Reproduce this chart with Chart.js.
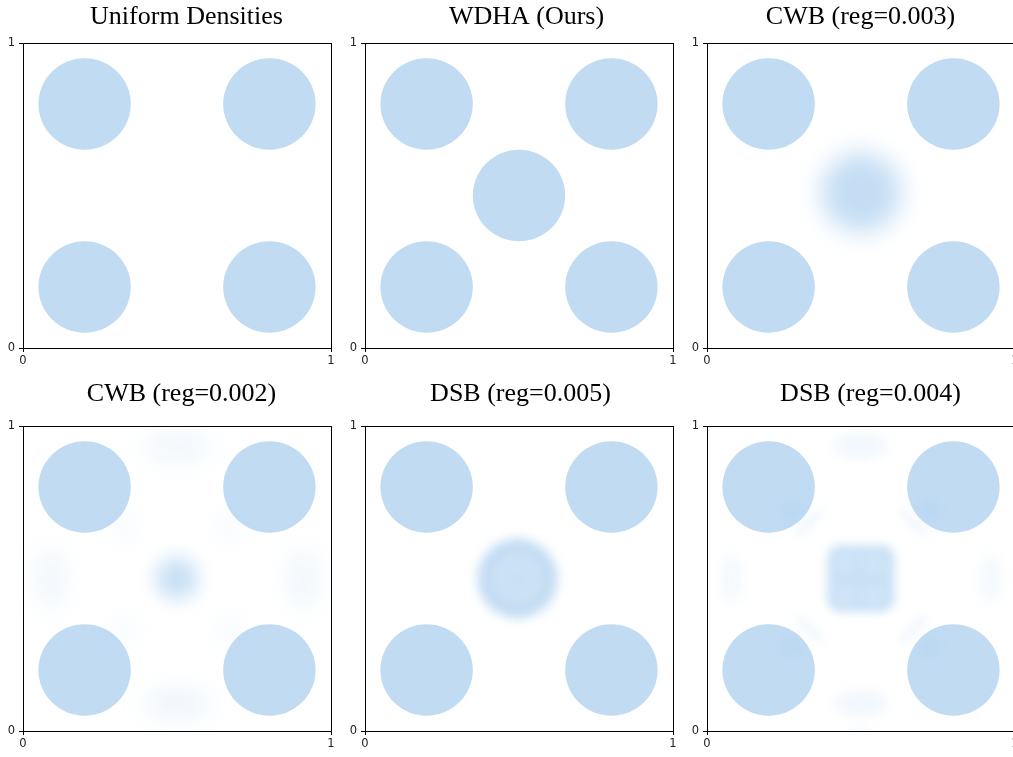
<!DOCTYPE html>
<html lang="en">
<head>
<meta charset="UTF-8">
<title>Barycenter densities</title>
<script src="https://cdn.jsdelivr.net/npm/chart.js"></script>
<style>
  body { margin: 0; width: 1013px; height: 757px; overflow: hidden; background: #fff; position: relative; }
  canvas { position: absolute; }
</style>
</head>
<body>
<canvas id="c0"></canvas>
<canvas id="c1"></canvas>
<canvas id="c2"></canvas>
<canvas id="c3"></canvas>
<canvas id="c4"></canvas>
<canvas id="c5"></canvas>
<script>
// panel titles and axis ticks
const panelTitles = ['Uniform Densities', 'WDHA (Ours)', 'CWB (reg=0.003)', 'CWB (reg=0.002)', 'DSB (reg=0.005)', 'DSB (reg=0.004)'];
const axisTicks = [0, 1];

// mass blobs, in axis units: centre x/y, half sizes rx/ry, relative density d
const inputCircles = [
  { x: 0.2, y: 0.8, rx: 0.15, ry: 0.15, d: 1 },
  { x: 0.8, y: 0.8, rx: 0.15, ry: 0.15, d: 1 },
  { x: 0.2, y: 0.2, rx: 0.15, ry: 0.15, d: 1 },
  { x: 0.8, y: 0.2, rx: 0.15, ry: 0.15, d: 1 }
];
const wdhaMass = [
  { x: 0.5, y: 0.5, rx: 0.15, ry: 0.15, d: 1 }
];
const cwb003Mass = [
  { x: 0.5, y: 0.51, rx: 0.13, ry: 0.13, d: 0.95, soft: 0.04 }
];
const cwb002Mass = [
  { x: 0.5, y: 0.5, rx: 0.07, ry: 0.07, d: 0.85, soft: 0.03 },
  { x: 0.5, y: 0.93, rx: 0.11, ry: 0.045, d: 0.25, soft: 0.04 },
  { x: 0.5, y: 0.09, rx: 0.11, ry: 0.045, d: 0.3, soft: 0.04 },
  { x: 0.09, y: 0.5, rx: 0.045, ry: 0.1, d: 0.25, soft: 0.04 },
  { x: 0.91, y: 0.5, rx: 0.045, ry: 0.1, d: 0.25, soft: 0.04 },
  { x: 0.33, y: 0.67, rx: 0.045, ry: 0.045, d: 0.15, soft: 0.035 },
  { x: 0.67, y: 0.67, rx: 0.045, ry: 0.045, d: 0.15, soft: 0.035 },
  { x: 0.33, y: 0.33, rx: 0.045, ry: 0.045, d: 0.15, soft: 0.035 },
  { x: 0.67, y: 0.33, rx: 0.045, ry: 0.045, d: 0.15, soft: 0.035 }
];
const dsb005Mass = [
  { x: 0.495, y: 0.5, rx: 0.13, ry: 0.13, d: 0.8, soft: 0.018 },
  { x: 0.495, y: 0.5, rx: 0.105, ry: 0.105, w: 0.035, d: 0.35, soft: 0.018, shape: 'ring' },
  { x: 0.495, y: 0.5, rx: 0.035, ry: 0.035, d: 0.12, soft: 0.02 }
];
const dsb004Mass = [
  { x: 0.5, y: 0.5, rx: 0.11, ry: 0.11, c: 0.045, d: 0.85, soft: 0.015, shape: 'box' },
  { x: 0.445, y: 0.555, rx: 0.03, ry: 0.03, d: -0.15, soft: 0.018 },
  { x: 0.54, y: 0.555, rx: 0.03, ry: 0.03, d: -0.15, soft: 0.018 },
  { x: 0.445, y: 0.44, rx: 0.03, ry: 0.03, d: -0.15, soft: 0.018 },
  { x: 0.54, y: 0.44, rx: 0.03, ry: 0.03, d: -0.15, soft: 0.018 },
  { x: 0.5, y: 0.935, rx: 0.09, ry: 0.04, d: 0.22, soft: 0.02 },
  { x: 0.5, y: 0.09, rx: 0.09, ry: 0.04, d: 0.22, soft: 0.02 },
  { x: 0.5, y: 0.0, rx: 0.04, ry: 0.012, d: 0.15, soft: 0.01 },
  { x: 0.08, y: 0.5, rx: 0.035, ry: 0.08, d: 0.18, soft: 0.02 },
  { x: 0.92, y: 0.5, rx: 0.035, ry: 0.08, d: 0.18, soft: 0.02 },
  { x: 0.334, y: 0.684, rx: 0.07, ry: 0.012, rot: -45, d: 0.25, soft: 0.015 },
  { x: 0.669, y: 0.684, rx: 0.07, ry: 0.012, rot: 45, d: 0.25, soft: 0.015 },
  { x: 0.334, y: 0.333, rx: 0.07, ry: 0.012, rot: 45, d: 0.25, soft: 0.015 },
  { x: 0.669, y: 0.333, rx: 0.07, ry: 0.012, rot: -45, d: 0.25, soft: 0.015 },
  { x: 0.275, y: 0.725, rx: 0.035, ry: 0.035, d: 0.22, soft: 0.02 },
  { x: 0.725, y: 0.725, rx: 0.035, ry: 0.035, d: 0.22, soft: 0.02 },
  { x: 0.275, y: 0.275, rx: 0.035, ry: 0.035, d: 0.22, soft: 0.02 },
  { x: 0.725, y: 0.275, rx: 0.035, ry: 0.035, d: 0.22, soft: 0.02 }
];
const panelMass = [[], wdhaMass, cwb003Mass, cwb002Mass, dsb005Mass, dsb004Mass];

// layout of the six panels (plot area corner, title offset and spacing)
const PLOT_W = 308, PLOT_H = 305, Y_AXIS_W = 25, X_AXIS_H = 20;
const panels = [
  { left: 23, top: 43, dx: 10, padTop: 2, padBottom: 9.8 },
  { left: 365, top: 43, dx: 8, padTop: 2, padBottom: 9.8 },
  { left: 707, top: 43, dx: 0, padTop: 2, padBottom: 9.8 },
  { left: 23, top: 426, dx: 5, padTop: 3, padBottom: 15.8 },
  { left: 365, top: 426, dx: 2, padTop: 3, padBottom: 15.8 },
  { left: 707, top: 426, dx: 10, padTop: 3, padBottom: 15.8 }
];

const INK = [131, 183, 231];
const FULL = 0.5;

// paints each blob as a (blurred) shape at the point the scales give it
const densityPlugin = {
  id: 'density',
  afterDatasetsDraw(chart) {
    const { ctx, chartArea: a, scales: { x, y } } = chart;
    const ux = Math.abs(x.getPixelForValue(1) - x.getPixelForValue(0));
    const uy = Math.abs(y.getPixelForValue(1) - y.getPixelForValue(0));
    ctx.save();
    ctx.beginPath();
    ctx.rect(a.left, a.top, a.right - a.left, a.bottom - a.top);
    ctx.clip();
    chart.data.datasets.forEach((ds, di) => {
      chart.getDatasetMeta(di).data.forEach((pt, i) => {
        const b = ds.data[i];
        const rx = b.rx * ux, ry = b.ry * uy;
        const col = b.d < 0 ? 'rgba(255,255,255,' + (-b.d) + ')' : 'rgba(' + INK.join(',') + ',' + (b.d * FULL) + ')';
        ctx.save();
        ctx.filter = b.soft ? 'blur(' + (b.soft * ux).toFixed(1) + 'px)' : 'none';
        ctx.beginPath();
        if (b.shape === 'box') {
          ctx.roundRect(pt.x - rx, pt.y - ry, 2 * rx, 2 * ry, b.c * ux);
        } else {
          ctx.ellipse(pt.x, pt.y, rx, ry, (b.rot || 0) * Math.PI / 180, 0, 2 * Math.PI);
        }
        if (b.shape === 'ring') {
          ctx.lineWidth = b.w * ux;
          ctx.strokeStyle = col;
          ctx.stroke();
        } else {
          ctx.fillStyle = col;
          ctx.fill();
        }
        ctx.restore();
      });
    });
    ctx.restore();
  }
};

const tickFont = { family: "'DejaVu Sans', sans-serif", size: 11.5 };

function makeChart(i) {
  const p = panels[i];
  const extra = 2 * (p.dx + 12);
  const titleH = p.padTop + 26 * 1.2 + p.padBottom;
  const cv = document.getElementById('c' + i);
  cv.width = Y_AXIS_W + PLOT_W + extra;
  cv.height = Math.round(titleH + PLOT_H + X_AXIS_H);
  cv.style.left = (p.left - Y_AXIS_W) + 'px';
  cv.style.top = Math.round(p.top - titleH) + 'px';

  const datasets = [{ data: inputCircles, pointRadius: 0, pointHoverRadius: 0 }];
  if (panelMass[i].length) datasets.push({ data: panelMass[i], pointRadius: 0, pointHoverRadius: 0 });

  const hidden = {
    type: 'linear', min: 0, max: 1,
    ticks: { display: false },
    grid: { display: false },
    border: { display: true, color: '#000', width: 1 }
  };

  new Chart(cv, {
    type: 'scatter',
    data: { datasets: datasets },
    options: {
      responsive: false,
      animation: false,
      events: [],
      layout: { padding: 0 },
      plugins: {
        legend: { display: false },
        tooltip: { enabled: false },
        title: {
          display: true,
          text: panelTitles[i],
          color: '#000',
          font: { family: "'Liberation Serif', 'Times New Roman', serif", size: 26, weight: 'normal', lineHeight: 1.2 },
          padding: { top: p.padTop, bottom: p.padBottom }
        }
      },
      scales: {
        x: {
          type: 'linear', position: 'bottom', min: 0, max: 1,
          afterBuildTicks: s => { s.ticks = axisTicks.map(v => ({ value: v })); },
          afterFit: s => { s.height = X_AXIS_H; },
          ticks: { font: tickFont, color: '#222', padding: 2, maxRotation: 0 },
          grid: { display: true, drawOnChartArea: false, drawTicks: true, tickLength: 4, color: '#000' },
          border: { display: true, color: '#000', width: 1 }
        },
        y: {
          type: 'linear', position: 'left', min: 0, max: 1,
          afterBuildTicks: s => { s.ticks = axisTicks.map(v => ({ value: v })); },
          afterFit: s => { s.width = Y_AXIS_W; },
          ticks: { font: tickFont, color: '#222', padding: 4 },
          grid: { display: true, drawOnChartArea: false, drawTicks: true, tickLength: 4, color: '#000' },
          border: { display: true, color: '#000', width: 1 }
        },
        xt: Object.assign({}, hidden, { position: 'top', afterFit: s => { s.height = 0; } }),
        yr: Object.assign({}, hidden, { position: 'right', afterFit: s => { s.width = extra; } })
      }
    },
    plugins: [densityPlugin]
  });
}

for (let i = 0; i < panels.length; i++) makeChart(i);
</script>
</body>
</html>
